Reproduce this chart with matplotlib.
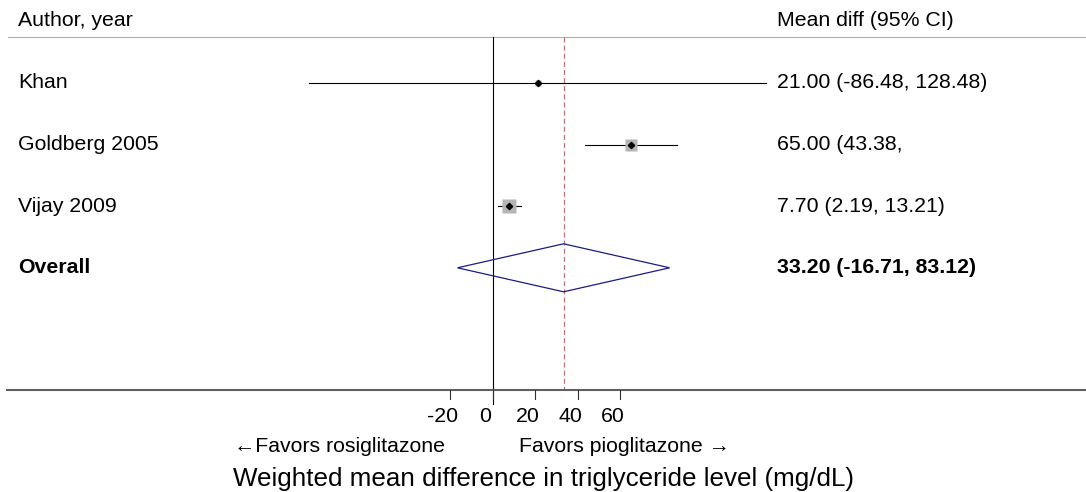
import numpy as np
import matplotlib
matplotlib.use("Agg")
import matplotlib.pyplot as plt
import matplotlib.transforms as mtransforms

plt.rcParams['font.family'] = ['Liberation Sans', 'DejaVu Sans']

# data
studies = ["Khan", "Goldberg 2005", "Vijay 2009"]
est = [21.00, 65.00, 7.70]
lo = [-86.48, 43.38, 2.19]
hi = [128.48, 86.62, 13.21]
weights = [10, 42, 48]
ci_text = ["21.00 (-86.48, 128.48)", "65.00 (43.38,", "7.70 (2.19, 13.21)"]
overall_label = "Overall"
overall_est = 33.20
overall_lo = -16.71
overall_hi = 83.12
overall_text = "33.20 (-16.71, 83.12)"
xticks = [-20, 0, 20, 40, 60]

W, H = 1086, 492
fig = plt.figure(figsize=(W / 100, H / 100), dpi=100)
ax = fig.add_axes([0, 0, 1, 1])
ax.axis("off")

# layout: x in data units, y in row units
zero_px, ppu = 493, 2.125
row0_px, row_px = 83, 61.6
ax.set_xlim(-zero_px / ppu, (W - zero_px) / ppu)
ax.set_ylim((H - row0_px) / row_px, -row0_px / row_px)

def rowy(px):
    return (px - row0_px) / row_px

fs = 15.3
xl = 18 / W
xr = 777 / W
tleft = mtransforms.blended_transform_factory(fig.transFigure, ax.transData)

# header
ax.text(xl, rowy(21), "Author, year", transform=tleft, fontsize=fs, va="center", ha="left")
ax.text(xr, rowy(21), "Mean diff (95% CI)", transform=tleft, fontsize=fs, va="center", ha="left")
ax.plot([8 / W, 1], [rowy(37.3)] * 2, transform=tleft, color="#b0b0b0", lw=0.8, clip_on=False)

# reference lines
ax.plot([0, 0], [rowy(37.3), rowy(404)], color="black", lw=0.8)
ax.plot([overall_est, overall_est], [rowy(37.3), rowy(390)], color="#c0707a", lw=0.9,
        dashes=(4, 2.5))

# studies
for i, name in enumerate(studies):
    ax.plot([lo[i], hi[i]], [i, i], color="black", lw=0.8, zorder=2)
    side = 1.92 * np.sqrt(weights[i]) * 0.72
    ax.plot(est[i], i, marker="s", ms=side, color="#b4b4b4", mec="none", zorder=3)
    ax.plot(est[i], i, marker="D", ms=3.2, color="black", zorder=4)
    ax.text(xl, i, name, transform=tleft, fontsize=fs, va="center", ha="left")
    ax.text(xr, i, ci_text[i], transform=tleft, fontsize=fs, va="center", ha="left")

# overall diamond
k = len(studies)
h = 24 / row_px
ax.fill([overall_lo, overall_est, overall_hi, overall_est, overall_lo],
        [k, k - h, k, k + h, k], facecolor="none", edgecolor="#1c1c80", lw=0.9, zorder=3)
ax.text(xl, k, overall_label, transform=tleft, fontsize=fs, va="center", ha="left",
        fontweight="bold")
ax.text(xr, k, overall_text, transform=tleft, fontsize=fs, va="center", ha="left",
        fontweight="bold")

# x axis
axis_y = rowy(389.5)
ax.plot([7 / W, 1], [axis_y] * 2, transform=tleft, color="#606060", lw=1.5, clip_on=False)
lab_tr = mtransforms.offset_copy(ax.transData, fig=fig, x=-8, y=0, units="dots")
for t in xticks:
    ax.plot([t, t], [axis_y, rowy(399)], color="#303030", lw=0.8)
    ax.text(t, rowy(416.5), str(t), transform=lab_tr, fontsize=fs, ha="center", va="center")

ax.text(234 / W, rowy(447), "\u2190Favors rosiglitazone", transform=tleft, fontsize=fs,
        ha="left", va="center")
ax.text(519 / W, rowy(447), "Favors pioglitazone \u2192", transform=tleft, fontsize=fs,
        ha="left", va="center")
ax.text(233 / W, rowy(479), "Weighted mean difference in triglyceride level (mg/dL)",
        transform=tleft, fontsize=18.7, ha="left", va="center")

fig.savefig("out.png", dpi=100)
